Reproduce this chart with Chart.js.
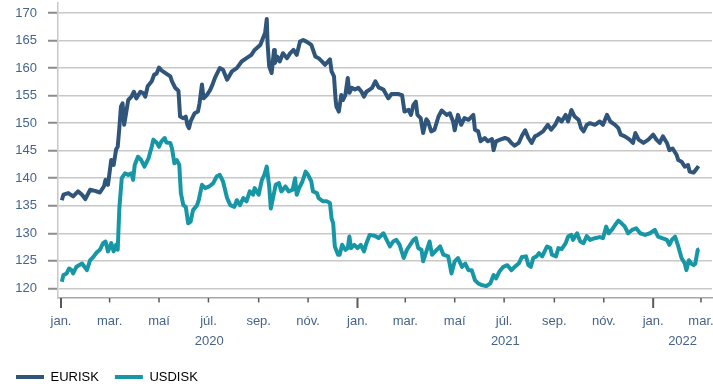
<!DOCTYPE html>
<html>
<head>
<meta charset="utf-8">
<script src="https://cdn.jsdelivr.net/npm/chart.js@4.4.1/dist/chart.umd.min.js"></script>
<style>
  html, body { margin: 0; padding: 0; background: #ffffff; }
  canvas { display: block; }
</style>
</head>
<body>
<canvas id="fx" width="713" height="387"></canvas>
<script>
// Exchange rates of the Icelandic króna, daily closing values
const eurDates = [
  '2020-01-02','2020-01-04','2020-01-10','2020-01-16','2020-01-22','2020-01-27','2020-01-31','2020-02-06','2020-02-12','2020-02-18',
  '2020-02-23','2020-02-25','2020-02-28','2020-03-03','2020-03-06','2020-03-09','2020-03-11','2020-03-13','2020-03-15','2020-03-17',
  '2020-03-19','2020-03-21','2020-03-24','2020-03-28','2020-03-31','2020-04-03','2020-04-08','2020-04-12','2020-04-14','2020-04-17',
  '2020-04-22','2020-04-25','2020-04-28','2020-05-01','2020-05-04','2020-05-09','2020-05-15','2020-05-17','2020-05-21','2020-05-25',
  '2020-05-27','2020-05-31','2020-06-03','2020-06-05','2020-06-07','2020-06-09','2020-06-14','2020-06-18','2020-06-20','2020-06-23',
  '2020-06-25','2020-06-29','2020-07-03','2020-07-06','2020-07-09','2020-07-15','2020-07-19','2020-07-24','2020-07-30','2020-08-05',
  '2020-08-11','2020-08-17','2020-08-23','2020-08-27','2020-09-03','2020-09-07','2020-09-09','2020-09-11','2020-09-12','2020-09-14',
  '2020-09-17','2020-09-20','2020-09-21','2020-09-24','2020-09-27','2020-10-01','2020-10-06','2020-10-10','2020-10-14','2020-10-18',
  '2020-10-22','2020-10-26','2020-10-30','2020-11-05','2020-11-10','2020-11-14','2020-11-18','2020-11-22','2020-11-28','2020-11-30',
  '2020-12-03','2020-12-05','2020-12-06','2020-12-09','2020-12-12','2020-12-14','2020-12-17','2020-12-20','2020-12-22','2020-12-25',
  '2020-12-29','2021-01-02','2021-01-06','2021-01-09','2021-01-12','2021-01-16','2021-01-19','2021-01-23','2021-01-27','2021-02-02',
  '2021-02-08','2021-02-12','2021-02-20','2021-02-25','2021-02-28','2021-03-05','2021-03-08','2021-03-11','2021-03-14','2021-03-16',
  '2021-03-20','2021-03-23','2021-03-27','2021-03-29','2021-04-02','2021-04-06','2021-04-11','2021-04-15','2021-04-21','2021-04-25',
  '2021-04-29','2021-05-01','2021-05-05','2021-05-09','2021-05-13','2021-05-18','2021-05-24','2021-05-26','2021-05-30','2021-06-02',
  '2021-06-07','2021-06-11','2021-06-16','2021-06-18','2021-06-21','2021-06-26','2021-07-02','2021-07-06','2021-07-10','2021-07-14',
  '2021-07-19','2021-07-23','2021-07-27','2021-07-31','2021-08-04','2021-08-08','2021-08-12','2021-08-18','2021-08-24','2021-08-28',
  '2021-09-02','2021-09-06','2021-09-10','2021-09-15','2021-09-18','2021-09-22','2021-09-26','2021-10-01','2021-10-04','2021-10-07',
  '2021-10-11','2021-10-15','2021-10-21','2021-10-27','2021-10-31','2021-11-05','2021-11-09','2021-11-15','2021-11-19','2021-11-22',
  '2021-11-27','2021-12-03','2021-12-07','2021-12-10','2021-12-14','2021-12-20','2021-12-26','2022-01-01','2022-01-05','2022-01-09',
  '2022-01-13','2022-01-18','2022-01-21','2022-01-25','2022-01-30','2022-02-01','2022-02-05','2022-02-09','2022-02-13','2022-02-15',
  '2022-02-20','2022-02-22','2022-02-26'
];
const eurValues = [
  136.0,137.0,137.3,136.7,137.6,137.0,136.2,137.9,137.7,137.4,
  138.5,139.7,138.8,143.3,142.4,145.2,145.7,149.1,153.0,153.6,
  149.7,151.5,154.2,154.8,155.7,154.5,155.7,155.4,154.8,156.7,
  157.6,158.8,159.0,160.1,159.6,159.1,158.5,157.6,156.4,155.9,
  151.2,150.9,151.2,149.7,149.1,150.3,151.8,152.1,153.6,157.0,
  154.5,155.1,156.0,157.0,158.2,160.0,159.7,157.9,159.4,160.0,
  161.2,161.8,162.4,163.3,164.2,165.7,166.4,168.9,164.5,160.3,
  159.1,163.3,160.9,162.1,161.2,162.7,161.8,162.7,163.3,162.4,
  164.8,165.1,164.8,164.2,162.1,161.8,161.2,160.6,161.6,159.4,
  158.5,154.2,153.0,152.1,155.1,154.2,155.1,158.2,155.5,156.4,
  156.1,156.4,155.7,154.8,155.7,156.1,156.4,157.6,156.5,156.1,
  154.5,155.3,155.3,155.1,152.1,152.4,151.5,153.3,153.9,151.5,
  150.9,148.2,150.7,150.3,148.5,148.8,151.2,152.3,151.5,151.8,
  150.3,148.7,151.5,149.7,150.9,150.6,151.5,148.8,148.5,146.7,
  147.3,146.7,147.1,145.1,146.7,147.0,147.3,147.1,146.4,145.9,
  146.4,147.7,148.7,147.3,146.4,147.6,147.9,148.5,149.7,148.8,
  149.7,150.9,150.3,151.5,150.3,152.4,151.2,150.6,149.1,148.5,
  149.7,150.0,149.7,150.3,149.7,151.5,150.3,149.7,149.1,147.9,
  147.6,147.0,146.4,148.2,147.0,146.4,147.0,147.9,147.0,146.4,
  147.6,146.4,145.1,145.4,144.2,143.3,143.0,142.1,142.4,141.2,
  141.0,141.4,142.2
];
const usdDates = [
  '2020-01-02','2020-01-04','2020-01-08','2020-01-11','2020-01-14','2020-01-16','2020-01-20','2020-01-27','2020-02-02','2020-02-06',
  '2020-02-10','2020-02-14','2020-02-18','2020-02-22','2020-02-25','2020-02-28','2020-03-03','2020-03-06','2020-03-09','2020-03-11',
  '2020-03-13','2020-03-16','2020-03-20','2020-03-24','2020-03-28','2020-03-30','2020-04-01','2020-04-05','2020-04-09','2020-04-13',
  '2020-04-18','2020-04-22','2020-04-24','2020-04-28','2020-05-01','2020-05-04','2020-05-08','2020-05-10','2020-05-15','2020-05-17',
  '2020-05-20','2020-05-23','2020-05-26','2020-05-28','2020-05-31','2020-06-03','2020-06-06','2020-06-09','2020-06-12','2020-06-17',
  '2020-06-19','2020-06-23','2020-06-27','2020-07-02','2020-07-07','2020-07-11','2020-07-15','2020-07-19','2020-07-24','2020-07-28',
  '2020-08-02','2020-08-05','2020-08-09','2020-08-13','2020-08-17','2020-08-21','2020-08-25','2020-08-27','2020-09-01','2020-09-05',
  '2020-09-08','2020-09-11','2020-09-14','2020-09-16','2020-09-19','2020-09-22','2020-09-26','2020-09-29','2020-10-04','2020-10-08',
  '2020-10-13','2020-10-16','2020-10-18','2020-10-21','2020-10-25','2020-10-29','2020-11-01','2020-11-05','2020-11-07','2020-11-12',
  '2020-11-14','2020-11-19','2020-11-24','2020-11-28','2020-11-30','2020-12-02','2020-12-04','2020-12-08','2020-12-10','2020-12-13',
  '2020-12-17','2020-12-20','2020-12-22','2020-12-24','2020-12-28','2021-01-01','2021-01-05','2021-01-09','2021-01-12','2021-01-16',
  '2021-01-23','2021-01-27','2021-02-02','2021-02-06','2021-02-10','2021-02-14','2021-02-18','2021-02-22','2021-02-27','2021-03-03',
  '2021-03-07','2021-03-11','2021-03-14','2021-03-17','2021-03-21','2021-03-23','2021-03-27','2021-03-31','2021-04-03','2021-04-07',
  '2021-04-13','2021-04-17','2021-04-23','2021-04-27','2021-05-01','2021-05-05','2021-05-10','2021-05-14','2021-05-18','2021-05-22',
  '2021-05-26','2021-05-30','2021-06-03','2021-06-09','2021-06-14','2021-06-18','2021-06-21','2021-06-25','2021-06-30','2021-07-05',
  '2021-07-10','2021-07-14','2021-07-19','2021-07-23','2021-07-28','2021-07-31','2021-08-03','2021-08-06','2021-08-10','2021-08-13',
  '2021-08-17','2021-08-23','2021-08-27','2021-08-29','2021-09-03','2021-09-06','2021-09-10','2021-09-15','2021-09-18','2021-09-22',
  '2021-09-24','2021-09-29','2021-10-03','2021-10-07','2021-10-11','2021-10-15','2021-10-21','2021-10-27','2021-10-31','2021-11-04',
  '2021-11-07','2021-11-11','2021-11-15','2021-11-19','2021-11-23','2021-11-27','2021-12-01','2021-12-06','2021-12-11','2021-12-16',
  '2021-12-22','2021-12-28','2022-01-03','2022-01-07','2022-01-12','2022-01-18','2022-01-21','2022-01-24','2022-01-28','2022-02-01',
  '2022-02-05','2022-02-09','2022-02-11','2022-02-14','2022-02-17','2022-02-20','2022-02-22','2022-02-25','2022-02-27'
];
const usdValues = [
  121.2,122.4,122.7,123.6,123.3,122.7,123.9,124.5,123.3,125.1,
  125.7,126.5,127.0,128.2,128.5,126.7,128.2,126.7,127.9,127.0,
  134.5,140.0,140.9,140.6,140.9,139.7,142.4,143.9,143.3,142.1,
  143.6,145.7,147.0,146.5,145.7,146.7,147.3,146.5,146.4,145.4,
  142.7,143.3,142.4,137.3,135.1,134.8,131.8,132.1,134.2,135.1,
  136.0,138.8,138.2,138.5,139.1,140.3,140.6,139.4,136.4,135.1,
  134.8,136.0,135.1,136.4,135.8,137.6,137.0,138.2,137.0,139.7,
  140.6,142.1,138.5,134.5,136.6,138.8,139.1,137.6,138.5,137.6,
  137.9,140.0,137.0,138.2,139.4,141.2,140.6,139.4,137.6,137.3,
  136.4,135.8,135.8,135.5,132.7,131.8,127.6,126.1,126.1,127.9,
  127.0,127.3,129.4,127.3,127.9,127.3,127.9,126.7,128.2,129.7,
  129.5,129.1,130.0,128.8,127.6,128.5,128.8,127.9,125.5,127.0,
  127.9,128.8,129.1,127.3,127.0,124.9,126.7,128.5,126.1,126.7,
  127.6,126.1,125.8,122.7,124.9,125.5,123.9,124.5,123.3,123.3,
  121.5,120.9,120.6,120.4,120.9,122.4,121.8,123.0,123.9,124.2,
  123.3,123.9,124.5,125.7,125.8,124.2,123.9,125.5,125.8,126.4,
  125.8,127.6,127.3,126.1,125.8,127.3,127.1,128.2,129.4,129.7,
  128.8,130.0,128.5,128.2,129.5,128.8,129.1,129.3,129.1,131.2,
  130.0,130.6,131.5,132.3,131.8,131.2,130.0,130.6,130.9,130.0,
  129.7,130.0,130.6,129.4,129.1,128.8,127.9,128.8,129.4,127.6,
  125.5,124.5,123.3,125.1,124.5,124.2,124.5,127.0,127.1
];

const seriesNames = ['EURISK', 'USDISK'];
const seriesColors = ['#30557a', '#1797a6'];

// Axis ticks
const yTicks = [120, 125, 130, 135, 140, 145, 150, 155, 160, 165, 170];
const tickDates = [
  '2020-01-01','2020-03-01','2020-05-01','2020-07-01','2020-09-01','2020-11-01',
  '2021-01-01','2021-03-01','2021-05-01','2021-07-01','2021-09-01','2021-11-01',
  '2022-01-01','2022-03-01'
];
const tickLabels = [
  'jan.','mar.','maí','júl.','sep.','nóv.',
  'jan.','mar.','maí','júl.','sep.','nóv.',
  'jan.','mar.'
];
const yearLabels = ['2020', '2021', '2022'];

// days since 1 Jan 2020
const ORIGIN = Date.UTC(2020, 0, 1);
function dayOf(s) {
  const [y, m, d] = s.split('-').map(Number);
  return (Date.UTC(y, m - 1, d) - ORIGIN) / 86400000;
}
const toPoints = (dates, values) => dates.map((d, i) => ({ x: dayOf(d), y: values[i] }));

const TEXT = '#46648a';
const FONT = "'Liberation Sans', Arial, sans-serif";
Chart.defaults.font.family = FONT;
Chart.defaults.font.size = 13;
Chart.defaults.color = TEXT;

// month tick marks (longer at year starts) and centred year labels under the axis
const axisDecor = {
  id: 'axisDecor',
  afterDraw(chart) {
    const xs = chart.scales.x;
    const ctx = chart.ctx;
    const base = xs.top;
    ctx.save();
    ctx.strokeStyle = '#5a5a5a';
    tickDates.forEach(d => {
      const px = xs.getPixelForValue(dayOf(d));
      const major = d.slice(5, 7) === '01';
      ctx.lineWidth = major ? 2 : 1.5;
      ctx.beginPath();
      ctx.moveTo(px, base);
      ctx.lineTo(px, base + (major ? 10 : 4.5));
      ctx.stroke();
    });
    ctx.fillStyle = TEXT;
    ctx.font = '13px ' + FONT;
    ctx.textAlign = 'center';
    ctx.textBaseline = 'middle';
    yearLabels.forEach(y => {
      const a = Math.max(dayOf(y + '-01-01'), xs.min);
      const b = Math.min(dayOf((Number(y) + 1) + '-01-01'), xs.max);
      ctx.fillText(y, (xs.getPixelForValue(a) + xs.getPixelForValue(b)) / 2, base + 43);
    });
    ctx.restore();
  }
};

new Chart(document.getElementById('fx'), {
  type: 'line',
  data: {
    datasets: [
      { label: seriesNames[0], data: toPoints(eurDates, eurValues) },
      { label: seriesNames[1], data: toPoints(usdDates, usdValues) }
    ].map((ds, i) => Object.assign(ds, {
      borderColor: seriesColors[i],
      backgroundColor: seriesColors[i],
      borderWidth: 4,
      borderJoinStyle: 'round',
      pointRadius: 0,
      tension: 0,
      fill: false
    }))
  },
  options: {
    responsive: false,
    animation: false,
    devicePixelRatio: 1,
    layout: { padding: { left: 0, right: 1, top: 3, bottom: -6.5 } },
    plugins: {
      legend: {
        position: 'bottom',
        align: 'start',
        labels: {
          boxWidth: 28,
          boxHeight: 4,
          padding: 16,
          color: TEXT,
          font: { size: 13 },
          generateLabels: chart => chart.data.datasets.map((ds, i) => ({
            text: ds.label,
            fillStyle: seriesColors[i],
            strokeStyle: seriesColors[i],
            lineWidth: 0,
            hidden: false,
            datasetIndex: i
          }))
        }
      },
      tooltip: { enabled: false }
    },
    scales: {
      x: {
        type: 'linear',
        min: -3.7,
        max: 803.6,
        afterBuildTicks: s => { s.ticks = tickDates.map(d => ({ value: dayOf(d) })); },
        ticks: {
          autoSkip: false,
          maxRotation: 0,
          padding: 16,
          color: TEXT,
          callback: (v, i) => tickLabels[i]
        },
        grid: { drawOnChartArea: false, drawTicks: false },
        border: { color: '#a8a8a8', width: 1.5 },
        afterFit: s => { s.height = 56.5; s.paddingLeft = 0; s.paddingRight = 0; }
      },
      y: {
        min: 118.24,
        max: 171.82,
        afterBuildTicks: s => { s.ticks = yTicks.map(v => ({ value: v })); },
        ticks: { padding: 11, color: TEXT },
        grid: { color: '#c8c8c8', lineWidth: 1.5, tickLength: 10, tickColor: '#8c8c8c', tickWidth: 2 },
        border: { color: '#c8c8c8', width: 1.5 },
        afterFit: s => { s.width = 58; s.paddingTop = 0; s.paddingBottom = 0; }
      }
    }
  },
  plugins: [axisDecor]
});
</script>
</body>
</html>
